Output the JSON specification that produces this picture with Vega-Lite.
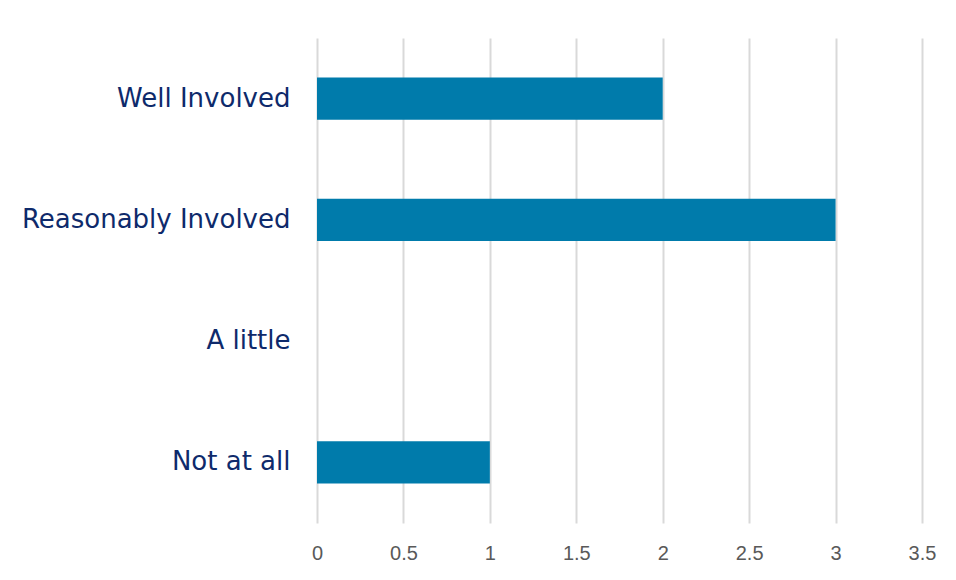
{
  "$schema": "https://vega.github.io/schema/vega-lite/v6.json",
  "autosize": {"type": "none"},
  "padding": {"left": 317, "top": 38, "right": 34, "bottom": 57},
  "width": 605,
  "height": 485,
  "background": "white",
  "config": {"view": {"stroke": null}},
  "data": {"values": [
    {"level": "Well Involved", "count": 2},
    {"level": "Reasonably Involved", "count": 3},
    {"level": "A little", "count": 0},
    {"level": "Not at all", "count": 1}
  ]},
  "mark": {"type": "bar", "color": "#007BAB"},
  "encoding": {
    "y": {
      "field": "level", "type": "nominal",
      "sort": ["Well Involved", "Reasonably Involved", "A little", "Not at all"],
      "scale": {"paddingInner": 0.653, "paddingOuter": 0.3265},
      "axis": {"title": null, "domain": false, "ticks": false, "grid": false,
        "labelFont": "DejaVu Sans", "labelFontSize": 26, "labelColor": "#0E2A6B",
        "labelPadding": 27, "labelLimit": 400}
    },
    "x": {
      "field": "count", "type": "quantitative",
      "scale": {"domain": [0, 3.5], "nice": false},
      "axis": {"title": null, "domain": false, "ticks": false,
        "values": [0, 0.5, 1, 1.5, 2, 2.5, 3, 3.5], "format": "~g",
        "grid": true, "gridColor": "#D9D9D9", "gridWidth": 2,
        "labelFont": "Liberation Sans", "labelFontSize": 20, "labelColor": "#595959",
        "labelPadding": 20, "labelFlush": false}
    }
  }
}
